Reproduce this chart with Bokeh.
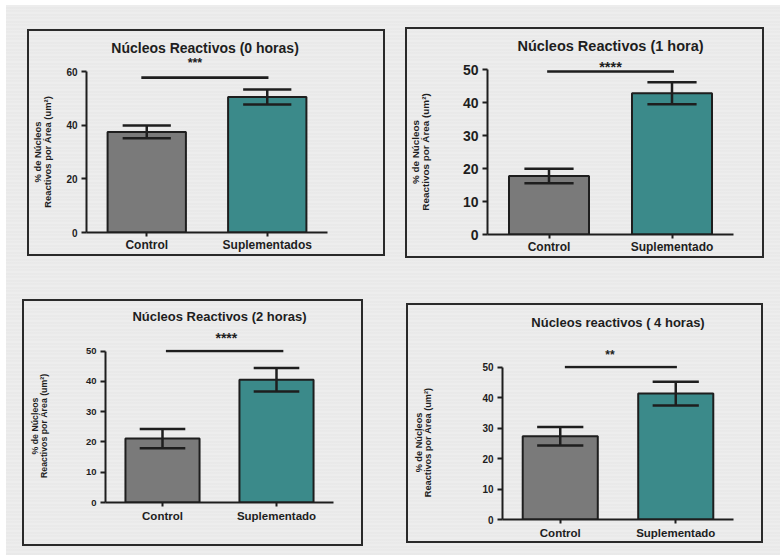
from bokeh.plotting import figure
from bokeh.layouts import row, column
from bokeh.models import Range1d, FixedTicker, Arrow, LinearAxis
from bokeh.embed import file_html
from bokeh.resources import INLINE

FONT = "Liberation Sans"
INK = "#1e1e1e"
GRAY = "#7a7a7a"
TEAL = "#3b8a8a"

# ---- data -------------------------------------------------------------
titles = [
    "Núcleos Reactivos  (0 horas)",
    "Núcleos Reactivos (1 hora)",
    "Núcleos Reactivos (2 horas)",
    "Núcleos reactivos ( 4 horas)",
]
groups_0h = ["Control", "Suplementados"]
groups = ["Control", "Suplementado"]

mean_0h = [37.5, 50.5]
sem_0h = [2.4, 2.8]
mean_1h = [17.7, 42.8]
sem_1h = [2.2, 3.3]
mean_2h = [21.1, 40.5]
sem_2h = [3.2, 3.9]
mean_4h = [27.3, 41.3]
sem_4h = [3.0, 3.9]

stars = ["***", "****", "****", "**"]
bracket_y = [57.7, 49.4, 50.0, 50.0]

y_ticks_0h = [0, 20, 40, 60]
y_ticks = [0, 10, 20, 30, 40, 50]
y_label = "% de Núcleos\nReactivos por Área (um²)"

PAGE_BG = {
    "background-color": "#ebebeb",
    "background-image": (
        "repeating-linear-gradient(180deg, #ededed 0px, #ededed 2px, "
        "#e5e5e5 3px, #eeeeee 4px, #e8e8e8 6px, #ececec 7px)"
    ),
}


def text_axis(text, x, size, standoff):
    """A bare axis above the frame that carries a single centred text."""
    ax = LinearAxis(ticker=FixedTicker(ticks=[x]), major_label_overrides={x: text})
    ax.axis_line_color = None
    ax.major_tick_line_color = None
    ax.minor_tick_line_color = None
    ax.major_tick_out = 0
    ax.major_tick_in = 0
    ax.major_label_standoff = standoff
    ax.major_label_text_font = FONT
    ax.major_label_text_font_style = "bold"
    ax.major_label_text_font_size = f"{size}px"
    ax.major_label_text_color = INK
    return ax


def panel(title, cats, means, errs, ticks, star, bracket, cfg):
    p = figure(
        width=cfg["w"], height=cfg["h"],
        x_range=Range1d(0.5, 2.5), y_range=Range1d(0, cfg["y_end"]),
        output_backend="svg", toolbar_location=None,
        min_border_left=cfg["bl"], min_border_right=cfg["br"],
        min_border_top=cfg["bt"], min_border_bottom=cfg["bb"],
        margin=cfg["margin"],
        styles={"box-shadow": "0 0 0 2px #2a2a2a"},
    )
    p.frame_align = False
    p.background_fill_alpha = 0
    p.border_fill_alpha = 0
    p.outline_line_color = None
    p.grid.visible = False
    p.title.text = ""
    p.title.standoff = 0

    xs = [1, 2]
    p.vbar(x=xs, top=means, width=0.65, fill_color=[GRAY, TEAL],
           line_color=INK, line_width=2)

    lo = [m - e for m, e in zip(means, errs)]
    hi = [m + e for m, e in zip(means, errs)]
    cap = 0.2
    p.segment(x0=xs, y0=lo, x1=xs, y1=hi, line_color=INK, line_width=2.5)
    p.segment(x0=[x - cap for x in xs], y0=hi, x1=[x + cap for x in xs], y1=hi,
              line_color=INK, line_width=2.5)
    p.segment(x0=[x - cap for x in xs], y0=lo, x1=[x + cap for x in xs], y1=lo,
              line_color=INK, line_width=2.5)

    # significance bracket
    bx0, bx1 = cfg["bracket_x"]
    p.add_layout(Arrow(end=None, x_start=bx0, y_start=bracket, x_end=bx1,
                       y_end=bracket, line_color=INK, line_width=2.7))

    # category axis (bottom)
    xa = p.below[0]
    xa.ticker = FixedTicker(ticks=xs)
    xa.major_label_overrides = {1: cats[0], 2: cats[1]}
    xa.major_label_text_font = FONT
    xa.major_label_text_font_style = "bold"
    xa.major_label_text_font_size = f"{cfg['cat_size']}px"
    xa.major_label_text_color = INK
    xa.major_label_text_line_height = 1.0
    xa.major_label_standoff = cfg["cat_sd"]
    xa.axis_line_width = 2
    xa.axis_line_color = INK
    xa.major_tick_line_width = 2
    xa.major_tick_line_color = INK
    xa.major_tick_out = 4
    xa.major_tick_in = 0
    xa.minor_tick_line_color = None

    # stars just above the frame, then the panel title above them
    p.add_layout(text_axis(star, cfg["star_x"], cfg["star_size"], cfg["star_sd"]), "above")
    p.add_layout(text_axis(title, 1.5, cfg["title_size"], cfg["title_sd"]), "above")

    ya = p.left[0]
    ya.ticker = FixedTicker(ticks=ticks)
    ya.bounds = (0, ticks[-1])
    ya.major_label_text_font = FONT
    ya.major_label_text_font_style = "bold"
    ya.major_label_text_font_size = f"{cfg['tick_size']}px"
    ya.major_label_text_color = INK
    ya.major_label_standoff = 4
    ya.axis_line_width = 2
    ya.axis_line_color = INK
    ya.major_tick_line_width = 2
    ya.major_tick_line_color = INK
    ya.major_tick_out = 5
    ya.major_tick_in = 0
    ya.minor_tick_line_color = None
    ya.axis_label = y_label
    ya.axis_label_text_font = FONT
    ya.axis_label_text_font_style = "bold"
    ya.axis_label_text_font_size = f"{cfg['ylab_size']}px"
    ya.axis_label_text_color = INK
    ya.axis_label_text_line_height = 0.9
    ya.axis_label_standoff = cfg["ylab_sd"]
    return p


cfgs = [
    dict(w=354, h=223, bl=53, br=56, bt=40, bb=21, margin=(26, 0, 0, 23),
         y_end=60, title_size=14, title_sd=-3, star_size=12.5, star_sd=2,
         star_x=1.4, tick_size=10, cat_size=12, cat_sd=1, ylab_size=9.4,
         ylab_sd=10, bracket_x=(0.955, 2.01)),
    dict(w=355, h=227, bl=77, br=29, bt=40, bb=21, margin=(24, 18, 0, 24),
         y_end=50, title_size=14.5, title_sd=2, star_size=14.5, star_sd=-5,
         star_x=1.5, tick_size=14, cat_size=12, cat_sd=1, ylab_size=9.9,
         ylab_sd=29, bracket_x=(0.985, 2.016)),
    dict(w=337, h=243, bl=81, br=28, bt=48, bb=42, margin=(45, 0, 11, 18),
         y_end=50.5, title_size=13, title_sd=3, star_size=14, star_sd=4,
         star_x=1.56, tick_size=9.5, cat_size=11.5, cat_sd=3, ylab_size=8.75,
         ylab_sd=34, bracket_x=(1.03, 2.06)),
    dict(w=353, h=236, bl=94, br=28, bt=60, bb=22, margin=(49, 0, 0, 47),
         y_end=50.5, title_size=13, title_sd=15, star_size=12, star_sd=4,
         star_x=1.43, tick_size=10, cat_size=11.5, cat_sd=3, ylab_size=9.2,
         ylab_sd=46, bracket_x=(1.04, 2.01)),
]

p1 = panel(titles[0], groups_0h, mean_0h, sem_0h, y_ticks_0h, stars[0], bracket_y[0], cfgs[0])
p2 = panel(titles[1], groups, mean_1h, sem_1h, y_ticks, stars[1], bracket_y[1], cfgs[1])
p3 = panel(titles[2], groups, mean_2h, sem_2h, y_ticks, stars[2], bracket_y[2], cfgs[2])
p4 = panel(titles[3], groups, mean_4h, sem_4h, y_ticks, stars[3], bracket_y[3], cfgs[3])

page = column(row(p1, p2), row(p3, p4), margin=(5, 0, 0, 6), styles=PAGE_BG)

open("out.html", "w").write(file_html(page, INLINE))
